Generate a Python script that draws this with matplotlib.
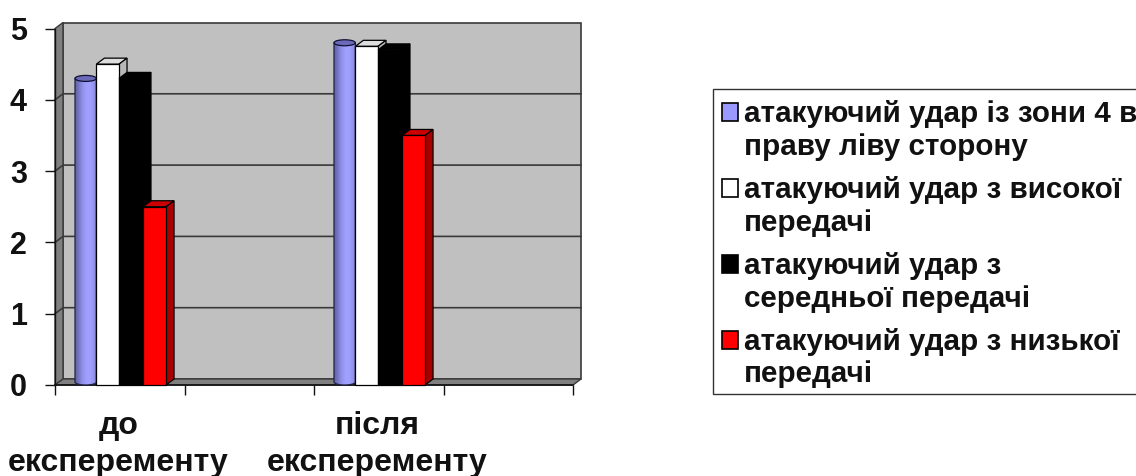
import numpy as np
import matplotlib
matplotlib.use("Agg")
import matplotlib.pyplot as plt
from matplotlib.patches import Polygon, Ellipse, Patch, Rectangle

plt.rcParams['font.family'] = ['Liberation Sans', 'DejaVu Sans']
plt.rcParams['font.weight'] = 'bold'

categories = ['до\nексперементу', 'після\nексперементу']
series_names = ['атакуючий удар із зони 4 в\nправу ліву сторону',
                'атакуючий удар з високої\nпередачі',
                'атакуючий удар з\nсередньої передачі',
                'атакуючий удар з низької\nпередачі']
zone4 = [4.3, 4.8]
high = [4.5, 4.75]
middle = [4.3, 4.7]
low = [2.5, 3.5]
y_ticks = [0, 1, 2, 3, 4, 5]

W, H = 1136, 476
L, R, T, B = 55, 573, 28.5, 385
fig = plt.figure(figsize=(W / 100, H / 100), dpi=100, facecolor='white')
ax = fig.add_axes([L / W, 1 - B / H, (R - L) / W, (B - T) / H])
ax.set_xlim(0, 4)
ax.set_ylim(0, 5)
ax.set_facecolor('none')
for s in ax.spines.values():
    s.set_visible(False)

px = 4 / (R - L)
py = 5 / (B - T)
dx, dy = 8 * px, 6 * py
GRID = '#3a3a3a'

# walls and floor
ax.add_patch(Polygon([(dx, dy), (4 + dx, dy), (4 + dx, 5 + dy), (dx, 5 + dy)], closed=True,
                     fc='#C0C0C0', ec=GRID, lw=1.2, zorder=0, clip_on=False))
ax.add_patch(Polygon([(0, 0), (dx, dy), (dx, 5 + dy), (0, 5)], closed=True,
                     fc='#808080', ec=GRID, lw=1.0, zorder=0.1, clip_on=False))
ax.add_patch(Polygon([(0, 0), (4, 0), (4 + dx, dy), (dx, dy)], closed=True,
                     fc='#808080', ec=GRID, lw=1.0, zorder=0.1, clip_on=False))
for t in y_ticks[1:-1]:
    ax.plot([0, dx, 4 + dx], [t, t + dy, t + dy], color=GRID, lw=1.2, zorder=0.5, clip_on=False)
ax.plot([0, 4], [0, 0], color='#111111', lw=1.2, zorder=0.6, clip_on=False)
ax.plot([0, 0], [0, 5], color='#111111', lw=1.0, zorder=0.6, clip_on=False)

w_cyl, w_high, w_mid, w_low = 0.165, 0.175, 0.185, 0.178
centers = np.array([0.5, 2.5])
group_shift = 0.3456


def box(x, width, v, face, top, side, z_back, z_front):
    ax.add_patch(Polygon([(x, v), (x + width, v), (x + width + dx, v + dy), (x + dx, v + dy)],
                         closed=True, fc=top, ec='black', lw=0.9, zorder=z_back, clip_on=False))
    ax.add_patch(Polygon([(x + width, 0), (x + width + dx, dy), (x + width + dx, v + dy), (x + width, v)],
                         closed=True, fc=side, ec='black', lw=0.9, zorder=z_back, clip_on=False))
    ax.bar(x, v, width=width, align='edge', color=face, edgecolor='black', linewidth=0.9,
           zorder=z_front, clip_on=False)


grad = np.array([[0.42, 0.50, 0.62, 0.74, 0.84, 0.92, 0.97, 1.0, 1.0, 0.97, 0.92, 0.84, 0.74]])
cmap = matplotlib.colors.LinearSegmentedColormap.from_list('c', ['#3a3a70', '#A0A0FF'])
for i, (a, b, c, d) in enumerate(zip(zone4, high, middle, low)):
    x0 = centers[i] - group_shift
    e = 3 * py
    th = np.linspace(np.pi, 2 * np.pi, 30)
    arc = np.column_stack([x0 + w_cyl / 2 + w_cyl / 2 * np.cos(th), e + e * np.sin(th)])
    outline = np.vstack([arc, [[x0 + w_cyl, a], [x0, a]]])
    clip = Polygon(outline, closed=True, fc='none', ec='#222244', lw=0.9, zorder=3.2, clip_on=False)
    ax.add_patch(clip)
    im = ax.imshow(grad, cmap=cmap, vmin=0, vmax=1, extent=(x0, x0 + w_cyl, 0, a), aspect='auto',
                   interpolation='bilinear', zorder=3)
    im.set_clip_path(clip)
    ax.add_patch(Ellipse((x0 + w_cyl / 2, a), w_cyl, 2 * e, fc='#6a6ab8', ec='#111133',
                         lw=0.9, zorder=3.3, clip_on=False))
    x1 = x0 + w_cyl
    box(x1, w_high, b, 'white', '#DDDDDD', '#B8B8B8', 2, 4)
    x2 = x1 + w_high
    box(x2, w_mid, c, 'black', 'black', 'black', 5, 5.1)
    x3 = x2 + w_mid
    box(x3, w_low, d, '#FF0000', '#CC0000', '#A80000', 6, 6.1)

ax.set_xlim(0, 4)
ax.set_ylim(0, 5)
ax.set_xticks([0, 1, 2, 3, 4])
ax.set_xticklabels([])
ax.set_yticks(y_ticks)
ax.set_yticklabels([str(t) for t in y_ticks], fontsize=22, fontweight='bold', color='#111111')
ax.tick_params(axis='both', length=7.2, width=1.0, color='#111111')
ax.tick_params(axis='y', pad=13)

for c, lab in zip(centers, categories):
    ax.annotate(lab, xy=(c, 0), xycoords='data', xytext=(-1, -18.5), textcoords='offset points',
                ha='center', va='top', fontsize=23, fontweight='bold', color='#111111',
                linespacing=1.3, annotation_clip=False)

# legend frame runs past the right edge of the picture, as in the reference
fig.add_artist(Rectangle((713 / W, 1 - 394 / H), 440 / W, 305 / H, transform=fig.transFigure,
                         fc='white', ec='#333333', lw=1.0, zorder=1))
handles = [Patch(fc='#9999FF', ec='black', lw=1.2), Patch(fc='white', ec='black', lw=1.2),
           Patch(fc='black', ec='black', lw=1.2), Patch(fc='#FF0000', ec='black', lw=1.2)]
leg = fig.legend(handles, series_names, loc='upper left', bbox_to_anchor=(713 / W, 1 - 91 / H),
                 bbox_transform=fig.transFigure, fontsize=21.3, frameon=False, handlelength=0.54,
                 handleheight=0.54, handletextpad=0.2, borderpad=0.3, labelspacing=0.51,
                 borderaxespad=0)
leg.set_zorder(2)
for t in leg.get_texts():
    t.set_color('#111111')
    t.set_linespacing(1.22)
for h in leg.legend_handles:
    h.set_y(h.get_y() + 13.5)

fig.savefig('out.png', dpi=100)
